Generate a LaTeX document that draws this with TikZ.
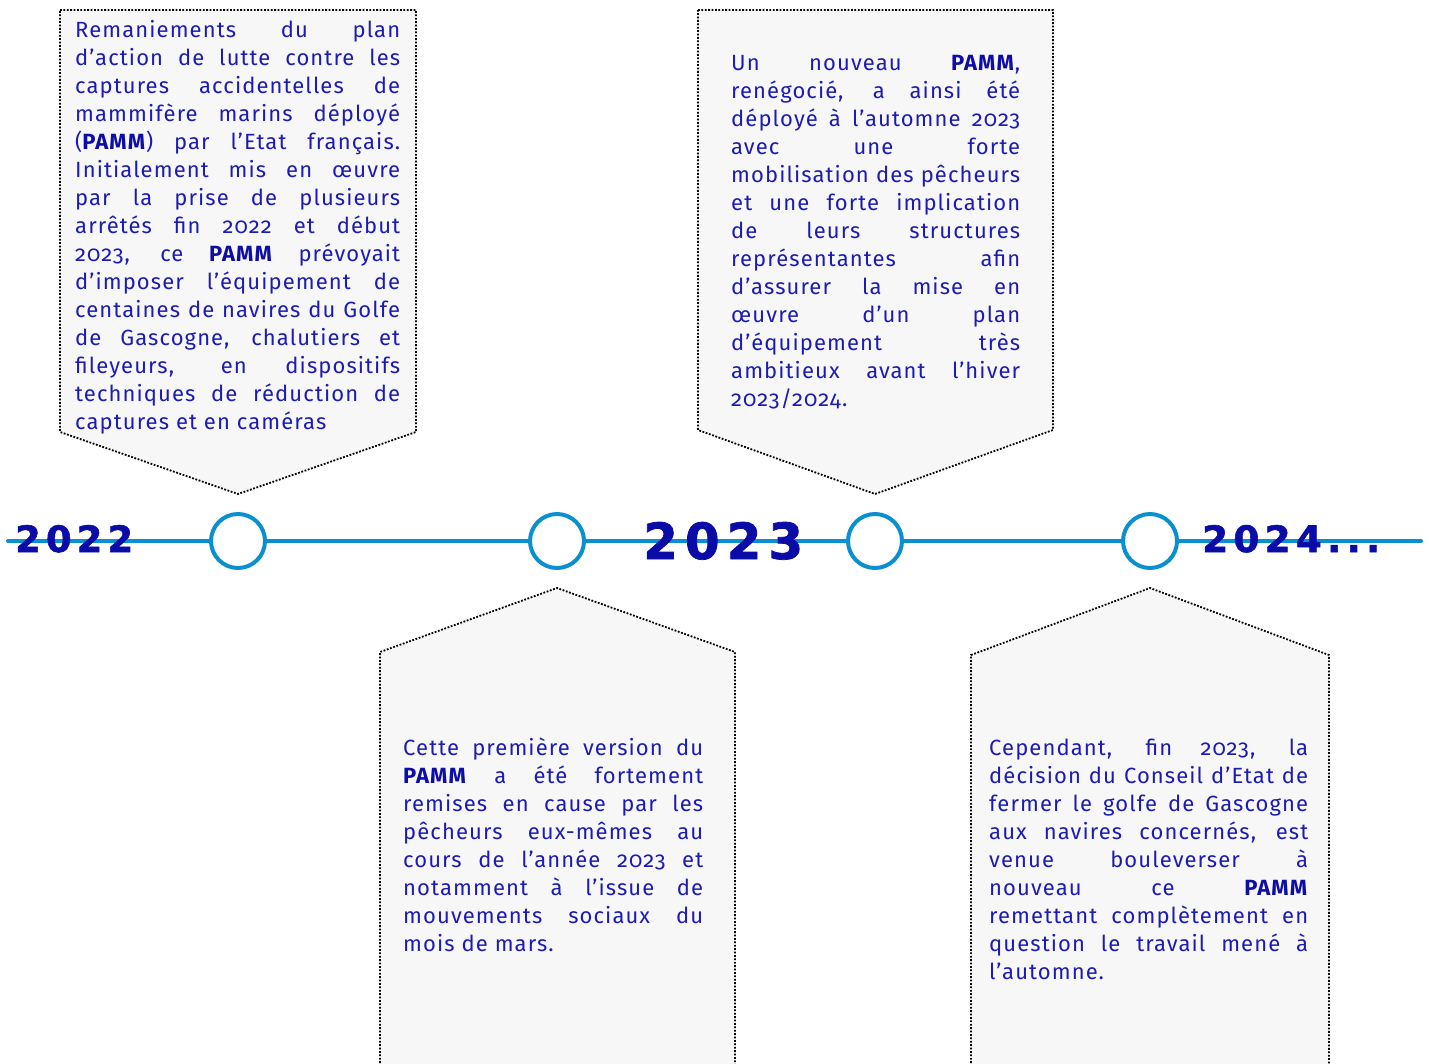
\documentclass[tikz,border=0pt]{standalone}
\usepackage{fontspec}
\usepackage{graphicx}
\setmainfont{Fira Sans}[Numbers=OldStyle, LetterSpace=5]
\newfontfamily\yearfont{DejaVu Sans}[LetterSpace=14, FakeBold=1.5]
\definecolor{txtblue}{HTML}{1C1CB4}
\definecolor{boldblue}{HTML}{0E0EA6}
\definecolor{yearblue}{HTML}{0B0BA8}
\definecolor{lineblue}{HTML}{0A8FD0}
\definecolor{cardgray}{HTML}{F7F7F7}
\newcommand\jline[1]{\makebox[\linewidth][s]{#1}\par}
\newcommand\pamm{\textcolor{boldblue}{\textbf{PAMM}}}
\newcommand\cardtext[2]{\parbox[t]{#1}{#2}}
\begin{document}
\begin{tikzpicture}[x=1pt,y=-1pt,
  card/.style={fill=cardgray, draw=black, line width=1.8pt, dash pattern=on 1.8pt off 1.6pt},
  txt/.style={inner sep=0pt, anchor=base west, text=txtblue, font=\fontsize{22}{28}\selectfont},
  dot/.style={circle, draw=lineblue, line width=4pt, fill=white, minimum size=54pt, inner sep=0pt},
  year/.style={inner sep=0pt, anchor=base west, text=yearblue}]
\useasboundingbox (0,0) rectangle (1429,1063);

% cards
\path[card] (60,10) -- (416,10) -- (416,432) -- (238,494) -- (60,432) -- cycle;
\path[card] (698,10) -- (1053,10) -- (1053,430) -- (875,494) -- (698,430) -- cycle;
\fill[cardgray] (380,1080) -- (380,652) -- (557,588) -- (735,652) -- (735,1080) -- cycle;
\draw[card, fill=none] (380,1080) -- (380,652) -- (557,588) -- (735,652) -- (735,1080);
\fill[cardgray] (971,1080) -- (971,655) -- (1150,588) -- (1329,655) -- (1329,1080) -- cycle;
\draw[card, fill=none] (971,1080) -- (971,655) -- (1150,588) -- (1329,655) -- (1329,1080);

% timeline
\coordinate (start) at (8,541);
\coordinate (end) at (1421,541);
\node[dot] (c1) at (238,541) {};
\node[dot] (c2) at (557,541) {};
\node[dot] (c3) at (875,541) {};
\node[dot] (c4) at (1150,541) {};
\draw[lineblue, line width=4pt, line cap=round] (start) -- (c1) (c1) -- (c2) (c2) -- (c3) (c3) -- (c4) (c4) -- (end);

% years
\node[year] (y1) at (15,552) {\resizebox{118pt}{27pt}{\yearfont\bfseries 2022}};
\node[year] (y2) at (643,559) {\resizebox{160pt}{37pt}{\yearfont\bfseries 2023}};
\node[year] (y3) at (1202,552) {\resizebox{178pt}{27pt}{\yearfont\bfseries 2024...}};

% texts
\node[txt] (t1) at (75,37) {\cardtext{325pt}{%
\jline{Remaniements du plan}
\jline{d’action de lutte contre les}
\jline{captures accidentelles de}
\jline{mammifère marins déployé}
\jline{(\pamm) par l’Etat français.}
\jline{Initialement mis en œuvre}
\jline{par la prise de plusieurs}
\jline{arrêtés fin 2022 et début}
\jline{2023, ce \pamm{} prévoyait}
\jline{d’imposer l’équipement de}
\jline{centaines de navires du Golfe}
\jline{de Gascogne, chalutiers et}
\jline{fileyeurs, en dispositifs}
\jline{techniques de réduction de}
captures et en caméras}};

\node[txt] (t2) at (403,755) {\cardtext{300pt}{%
\jline{Cette première version du}
\jline{\pamm{} a été fortement}
\jline{remises en cause par les}
\jline{pêcheurs eux-mêmes au}
\jline{cours de l’année 2023 et}
\jline{notamment à l’issue de}
\jline{mouvements sociaux du}
mois de mars.}};

\node[txt] (t3) at (731,70) {\cardtext{289pt}{%
\jline{Un nouveau \pamm,}
\jline{renégocié, a ainsi été}
\jline{déployé à l’automne 2023}
\jline{avec une forte}
\jline{mobilisation des pêcheurs}
\jline{et une forte implication}
\jline{de leurs structures}
\jline{représentantes afin}
\jline{d’assurer la mise en}
\jline{œuvre d’un plan}
\jline{d’équipement très}
\jline{ambitieux avant l’hiver}
2023/2024.}};

\node[txt] (t4) at (989,755) {\cardtext{319pt}{%
\jline{Cependant, fin 2023, la}
\jline{décision du Conseil d’Etat de}
\jline{fermer le golfe de Gascogne}
\jline{aux navires concernés, est}
\jline{venue bouleverser à}
\jline{nouveau ce \pamm}
\jline{remettant complètement en}
\jline{question le travail mené à}
l’automne.}};
\end{tikzpicture}
\end{document}
